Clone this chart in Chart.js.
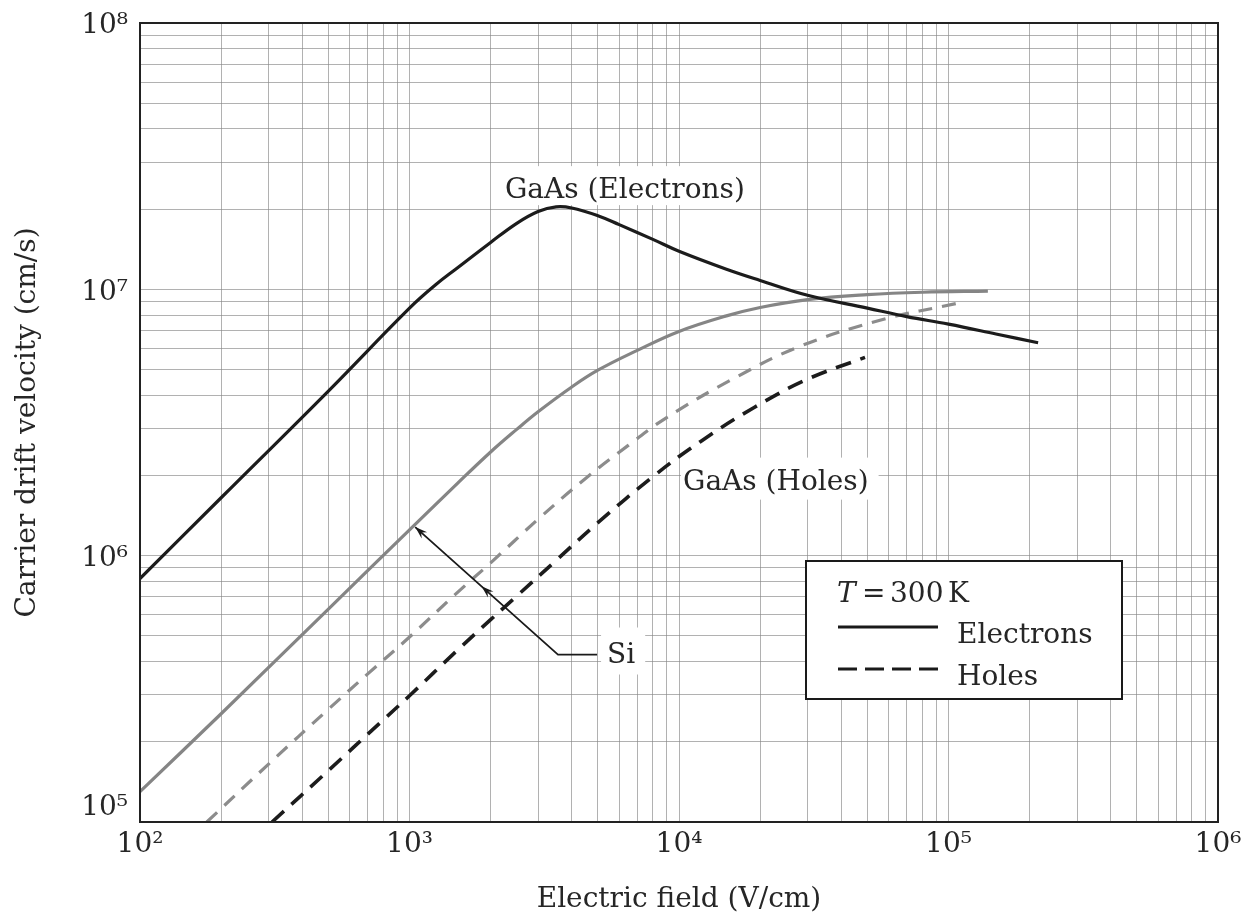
<!DOCTYPE html>
<html><head><meta charset="utf-8">
<script src="https://cdn.jsdelivr.net/npm/chart.js@4.4.0/dist/chart.umd.min.js"></script>
<style>html,body{margin:0;padding:0;background:#fff;}#wrap{width:1245px;height:921px;position:relative}</style>
</head><body><div id="wrap"><canvas id="c" width="1245" height="921"></canvas></div>
<script>
// ---- data ----
const gaasElecE = [100, 200, 500, 1000, 1250, 1500, 2000, 2500, 3000, 3500, 4000, 5000, 6000, 8000, 10000, 15000, 20000, 30000, 50000, 70000, 100000, 150000, 215000];
const gaasElecV = [8.2e5, 1.65e6, 4.15e6, 8.5e6, 1.04e7, 1.2e7, 1.5e7, 1.77e7, 1.96e7, 2.04e7, 2.02e7, 1.89e7, 1.75e7, 1.54e7, 1.39e7, 1.19e7, 1.08e7, 9.5e6, 8.5e6, 7.9e6, 7.4e6, 6.8e6, 6.3e6];

const siElecE = [100, 200, 500, 1000, 1500, 2000, 2500, 3000, 4000, 5000, 7000, 10000, 15000, 20000, 30000, 50000, 80000, 140000];
const siElecV = [1.3e5, 2.55e5, 6.3e5, 1.25e6, 1.86e6, 2.45e6, 2.98e6, 3.47e6, 4.3e6, 4.97e6, 5.9e6, 6.95e6, 7.95e6, 8.55e6, 9.15e6, 9.55e6, 9.75e6, 9.85e6];

const siHoleE = [177, 300, 500, 700, 1000, 1500, 2000, 3000, 4500, 6500, 9000, 15800, 28000, 57000, 107000];
const siHoleV = [1.0e5, 1.65e5, 2.65e5, 3.6e5, 4.95e5, 7.25e5, 9.4e5, 1.37e6, 1.95e6, 2.6e6, 3.3e6, 4.6e6, 6.1e6, 7.7e6, 8.85e6];

const gaasHoleE = [309, 500, 800, 1000, 1500, 2000, 2500, 3500, 5000, 8000, 12000, 19000, 30000, 49000];
const gaasHoleV = [1.0e5, 1.56e5, 2.42e5, 2.98e5, 4.4e5, 5.75e5, 7.05e5, 9.6e5, 1.33e6, 1.98e6, 2.68e6, 3.6e6, 4.6e6, 5.55e6];

const xDecades = [1e2, 1e3, 1e4, 1e5, 1e6];
const xTickLabels = ['10²', '10³', '10⁴', '10⁵', '10⁶'];
const yDecades = [1e5, 1e6, 1e7, 1e8];
const yTickLabels = ['10⁵', '10⁶', '10⁷', '10⁸'];

const xTitle = 'Electric field (V/cm)';
const yTitle = 'Carrier drift velocity (cm/s)';
const legendTitleItalic = 'T';
const legendTitleRest = ['=', '300', 'K'];
const legendItems = ['Electrons', 'Holes'];
const labelGaAsElec = 'GaAs (Electrons)';
const labelGaAsHole = 'GaAs (Holes)';
const labelSi = 'Si';

// annotation anchor points, in data coordinates
const gaasElecLabelAt = {x: 2259, y: 2.2e7};
const gaasHoleLabelAt = {x: 10350, y: 1.77e6};
const siLabelAt = {x: 5408, y: 3.97e5};
const siElbow = {x: 3556, y: 4.25e5};
const siLineEnd = {x: 4966, y: 4.25e5};
const siTip1 = {x: 1050, y: 1.28e6};
const siTip2 = {x: 1850, y: 7.8e5};

// ---- build ----
const pts = (E, V) => E.map((e, i) => ({x: e, y: V[i]}));
const FONT = '"DejaVu Serif", serif';
const TXT = '#262626';

function logTicks(lo, hi) {
  const t = [];
  for (let e = lo; e < hi; e++) for (let m = 1; m < 10; m++) t.push({value: m * Math.pow(10, e)});
  t.push({value: Math.pow(10, hi)});
  return t;
}
function decadeLabel(value, decades, labels) {
  const i = decades.findIndex(d => Math.abs(d - value) / d < 1e-9);
  return i >= 0 ? labels[i] : '';
}

const annotPlugin = {
  id: 'annot',
  beforeDatasetsDraw(chart) {
    const {ctx, scales: {x, y}} = chart;
    ctx.save();
    ctx.font = '28px ' + FONT;
    ctx.textBaseline = 'alphabetic';
    const boxText = (txt, at, padL, padR, up, down) => {
      const px = x.getPixelForValue(at.x), py = y.getPixelForValue(at.y);
      const w = ctx.measureText(txt).width;
      ctx.fillStyle = '#fff';
      ctx.fillRect(px - padL, py - up, w + padL + padR, up + down);
      ctx.fillStyle = TXT;
      ctx.fillText(txt, px, py);
    };
    boxText(labelGaAsElec, gaasElecLabelAt, 6, 6, 32, 7);
    boxText(labelGaAsHole, gaasHoleLabelAt, 2, 10, 32, 10);
    boxText(labelSi, siLabelAt, 6, 10, 35, 12);
    ctx.restore();
  },
  afterDatasetsDraw(chart) {
    const {ctx, scales: {x, y}} = chart;
    const P = p => [x.getPixelForValue(p.x), y.getPixelForValue(p.y)];
    const [ex, ey] = P(siElbow), [hx, hy] = P(siLineEnd), [t1x, t1y] = P(siTip1), [t2x] = P(siTip2);
    ctx.save();
    ctx.strokeStyle = '#1a1a1a'; ctx.fillStyle = '#1a1a1a'; ctx.lineWidth = 1.8;
    ctx.beginPath(); ctx.moveTo(hx, hy); ctx.lineTo(ex, ey); ctx.lineTo(t1x, t1y); ctx.stroke();
    const head = (tx, ty) => {
      const ang = Math.atan2(ty - ey, tx - ex);
      const L = 13, spread = 0.32;
      ctx.beginPath();
      ctx.moveTo(tx, ty);
      ctx.lineTo(tx - L * Math.cos(ang - spread), ty - L * Math.sin(ang - spread));
      ctx.lineTo(tx - 8 * Math.cos(ang), ty - 8 * Math.sin(ang));
      ctx.lineTo(tx - L * Math.cos(ang + spread), ty - L * Math.sin(ang + spread));
      ctx.closePath(); ctx.fill();
    };
    head(t1x, t1y);
    const f = (t2x - ex) / (t1x - ex);
    head(t2x, ey + f * (t1y - ey));
    ctx.restore();
  },
  afterDraw(chart) {
    const {ctx, chartArea: a} = chart;
    ctx.save();
    ctx.strokeStyle = '#222'; ctx.lineWidth = 2;
    ctx.strokeRect(a.left, a.top, a.right - a.left, a.bottom - a.top);
    const bx = a.right - 412, by = a.bottom - 261, bw = 316, bh = 138;
    ctx.fillStyle = '#fff'; ctx.fillRect(bx, by, bw, bh);
    ctx.strokeStyle = '#1a1a1a'; ctx.lineWidth = 2; ctx.strokeRect(bx, by, bw, bh);
    ctx.fillStyle = TXT; ctx.textBaseline = 'alphabetic';
    ctx.font = 'italic 28px ' + FONT;
    ctx.fillText(legendTitleItalic, bx + 31, by + 41);
    ctx.font = '28px ' + FONT;
    ctx.fillText(legendTitleRest[0], bx + 56, by + 41);
    ctx.fillText(legendTitleRest[1], bx + 84, by + 41);
    ctx.fillText(legendTitleRest[2], bx + 142, by + 41);
    ctx.strokeStyle = '#1a1a1a'; ctx.lineWidth = 3;
    ctx.beginPath(); ctx.moveTo(bx + 32, by + 66); ctx.lineTo(bx + 132, by + 66); ctx.stroke();
    ctx.setLineDash([19, 8]);
    ctx.beginPath(); ctx.moveTo(bx + 32, by + 108); ctx.lineTo(bx + 132, by + 108); ctx.stroke();
    ctx.setLineDash([]);
    ctx.fillText(legendItems[0], bx + 151, by + 82);
    ctx.fillText(legendItems[1], bx + 151, by + 124);
    ctx.restore();
  }
};

const gridOpts = {color: 'rgba(135,135,135,0.65)', lineWidth: 1, drawTicks: false};

new Chart(document.getElementById('c'), {
  type: 'line',
  data: {
    datasets: [
      {label: 'GaAs electrons', data: pts(gaasElecE, gaasElecV), borderColor: '#1c1c1c', borderWidth: 3.2},
      {label: 'Si electrons', data: pts(siElecE, siElecV), borderColor: '#858585', borderWidth: 3.2},
      {label: 'Si holes', data: pts(siHoleE, siHoleV), borderColor: '#8c8c8c', borderWidth: 3.2, borderDash: [14, 10]},
      {label: 'GaAs holes', data: pts(gaasHoleE, gaasHoleV), borderColor: '#1c1c1c', borderWidth: 3.6, borderDash: [16, 10]}
    ]
  },
  options: {
    responsive: false,
    animation: false,
    devicePixelRatio: 1,
    layout: {padding: {top: 23, right: 27, left: 0, bottom: 0}},
    elements: {point: {radius: 0}, line: {cubicInterpolationMode: 'default', tension: 0.4, fill: false}},
    plugins: {legend: {display: false}, tooltip: {enabled: false}},
    scales: {
      x: {
        type: 'logarithmic', min: 1e2, max: 1e6,
        afterBuildTicks: s => { s.ticks = logTicks(2, 6); },
        afterFit: s => { s.height = 99; s.paddingLeft = 0; s.paddingRight = 0; },
        grid: gridOpts, border: {display: false},
        ticks: {autoSkip: false, maxRotation: 0, padding: 6, color: TXT, font: {family: FONT, size: 28},
          callback: v => decadeLabel(v, xDecades, xTickLabels)},
        title: {display: true, text: xTitle, color: TXT, font: {family: FONT, size: 28}, padding: 4}
      },
      y: {
        type: 'logarithmic', min: 1e5, max: 1e8,
        afterBuildTicks: s => { s.ticks = logTicks(5, 8); },
        afterFit: s => { s.width = 140; s.paddingTop = 0; s.paddingBottom = 0; },
        grid: gridOpts, border: {display: false},
        ticks: {autoSkip: false, padding: 12, labelOffset: 3, color: TXT, font: {family: FONT, size: 28},
          callback: v => { const l = decadeLabel(v, yDecades, yTickLabels); return (l && v === yDecades[0]) ? [l, ''] : l; }},
        title: {display: true, text: yTitle, color: TXT, font: {family: FONT, size: 28}, padding: 11}
      }
    }
  },
  plugins: [annotPlugin]
});
</script></body></html>
